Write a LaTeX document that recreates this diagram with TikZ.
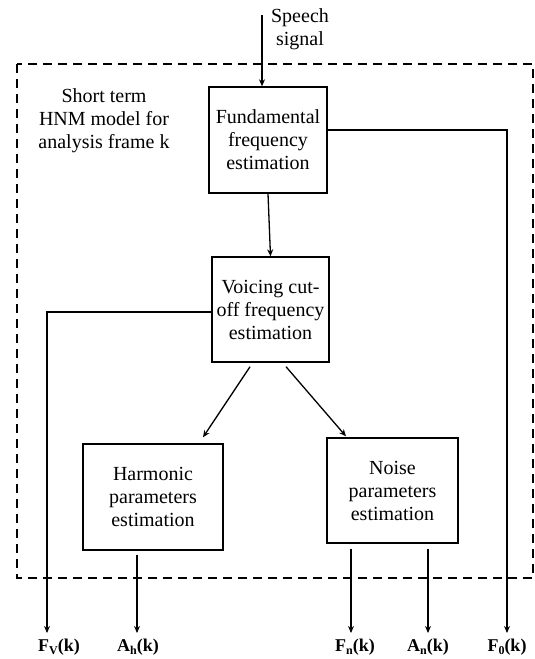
\documentclass[tikz,border=0pt]{standalone}
\usepackage{fontspec}
\setmainfont{Liberation Serif}
\usetikzlibrary{arrows.meta}
\newcommand{\sbs}[1]{\raisebox{-0.4ex}{\fontsize{12}{12}\selectfont #1}}
\begin{document}
\begin{tikzpicture}[x=1pt,y=-1pt,
  txt/.style={font=\fontsize{20}{23}\selectfont, align=center, inner sep=0pt},
  blk/.style={txt, draw, line width=1.4pt},
  arr/.style={line width=1.3pt, -{Stealth[length=7pt,width=6pt]}},
  outlbl/.style={font=\bfseries\fontsize{18}{18}\selectfont, inner sep=0pt, anchor=base},
  dframe/.style={line width=1.6pt, dash pattern=on 9pt off 6pt}]
\useasboundingbox (0,0) rectangle (535,659);
\draw[dframe] (17,64) rectangle (533,578);
% boxes
\node[blk, minimum width=118pt, minimum height=106pt] (f) at (268,140) {Fundamental\\frequency\\estimation};
\node[blk, minimum width=117pt, minimum height=105pt] (v) at (270.5,309.5) {Voicing cut-\\off frequency\\estimation};
\node[blk, minimum width=140pt, minimum height=106pt] (h) at (153,497) {Harmonic\\parameters\\estimation};
\node[blk, minimum width=131pt, minimum height=105pt] (n) at (392.5,490.5) {Noise\\parameters\\estimation};
% texts
\node[txt] (sp) at (300,29) {Speech\\signal};
\node[txt] (hnm) at (104,121) {Short term\\HNM model for\\analysis frame k};
% output labels
\node[outlbl] (fv) at (59,651) {F\sbs{V}(k)};
\node[outlbl] (ah) at (138,651) {A\sbs{h}(k)};
\node[outlbl] (fn) at (355,651) {F\sbs{n}(k)};
\node[outlbl] (an) at (428,651) {A\sbs{n}(k)};
\node[outlbl] (f0) at (507,651) {F\sbs{0}(k)};
\coordinate (fvt) at (47,633);
\coordinate (aht) at (137,633);
\coordinate (fnt) at (351,633);
\coordinate (ant) at (428,633);
\coordinate (f0t) at (507,633);
\coordinate (sps) at (262,15);
% connectors
\draw[arr] (sps) -- (sps |- f.north);
\draw[arr] (f.south) -- (v.north);
\draw[arr] ([xshift=-20.5pt,yshift=-4pt]v.south) -- ([xshift=50pt,yshift=6pt]h.north);
\draw[arr] ([xshift=15.5pt,yshift=-4pt]v.south) -- ([xshift=-46.5pt,yshift=1pt]n.north);
\draw[arr] ([yshift=-2.5pt]v.west) -| (fvt);
\draw[arr] ([yshift=10pt]f.east) -| (f0t);
\draw[arr] ([xshift=-16pt,yshift=-4pt]h.south) -- (aht);
\draw[arr] ([xshift=-41.5pt,yshift=-5pt]n.south) -- (fnt);
\draw[arr] ([xshift=35.5pt,yshift=-5pt]n.south) -- (ant);
\end{tikzpicture}
\end{document}
